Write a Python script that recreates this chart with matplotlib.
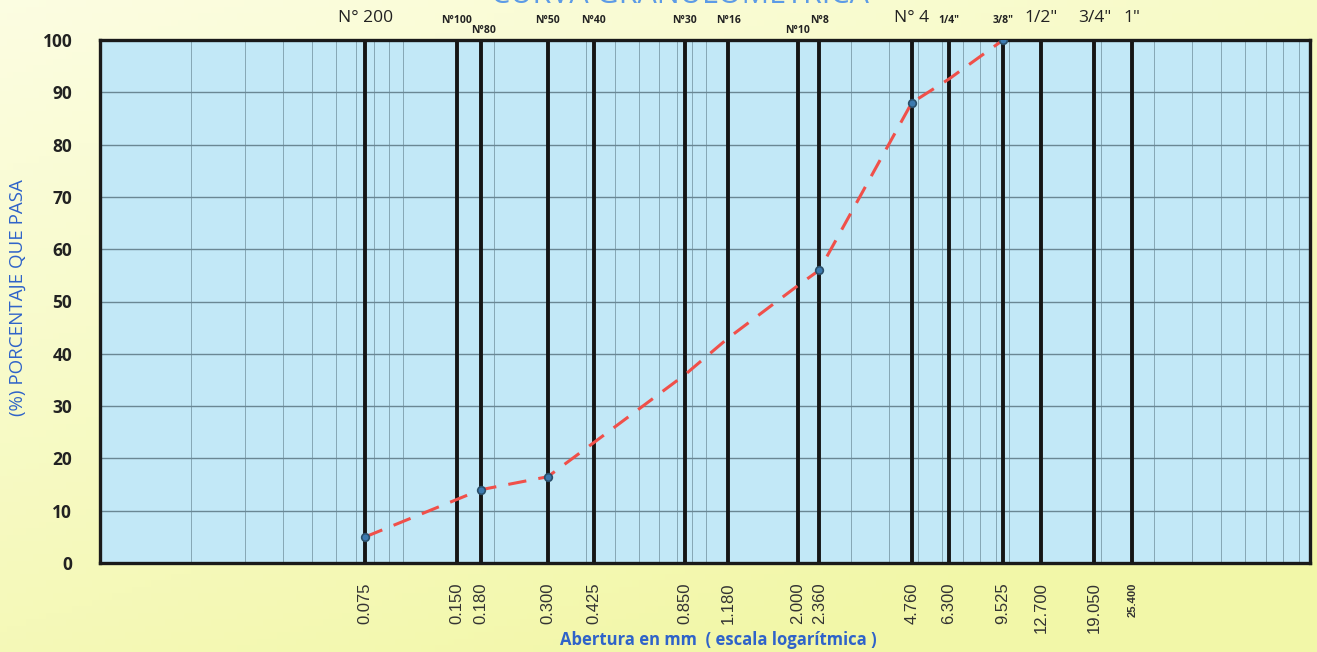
import numpy as np
import matplotlib
matplotlib.use("Agg")
from matplotlib import pyplot as plt
from matplotlib.ticker import FixedLocator, NullFormatter, LogLocator

## Data
sieve_mm = [0.075, 0.150, 0.180, 0.300, 0.425, 0.850, 1.180, 2.000, 2.360,
            4.760, 6.300, 9.525, 12.700, 19.050, 25.400]
sieve_lbl = ["0.075", "0.150", "0.180", "0.300", "0.425", "0.850", "1.180", "2.000",
             "2.360", "4.760", "6.300", "9.525", "12.700", "19.050", "25.400"]
sieve_top = ["N° 200", "N°100", "N°80", "N°50", "N°40", "N°30", "N°16", "N°10",
             "N°8", "N° 4", "1/4\"", "3/8\"", "1/2\"", "3/4\"", "1\""]

# curve readings (markers only on measured points)
curve_mm = [0.075, 0.180, 0.300, 0.425, 0.850, 1.180, 2.000, 2.360, 4.760, 6.300, 9.525]
curve_pct = [5.0, 14.0, 16.5, 23.0, 36.0, 43.0, 53.0, 56.0, 88.0, 92.5, 100.0]
marked = [0, 1, 2, 7, 8, 10]

fig = plt.figure(figsize=(13.17, 6.52), dpi=100)

## Background gradient
bg = fig.add_axes([0, 0, 1, 1], zorder=-10)
gx, gy = np.meshgrid(np.linspace(0, 1, 200), np.linspace(0, 1, 100))
t = np.clip(0.55 * gy + 0.35 * gx + 0.25, 0, 1)
top = np.array([1.0, 1.0, 0.96])
bot = np.array([0.95, 0.97, 0.66])
img = top[None, None, :] * (1 - t[..., None]) + bot[None, None, :] * t[..., None]
bg.imshow(img, aspect="auto", extent=[0, 1, 0, 1], origin="upper")
bg.axis("off")

ax = fig.add_axes([100 / 1317, 89 / 652, 1210 / 1317, 523 / 652])
ax.set_facecolor("#c2e8f7")
ax.set_xscale("log")
ax.set_xlim(0.01, 98)
ax.set_ylim(0, 100)

## Grid
ax.xaxis.set_minor_locator(LogLocator(base=10, subs=np.arange(1, 10)))
ax.xaxis.set_minor_formatter(NullFormatter())
ax.grid(which="minor", axis="x", color="#86a6b4", lw=0.7)
ax.set_yticks(np.arange(0, 101, 10))
ax.grid(which="major", axis="y", color="#6a8794", lw=1.0)
ax.tick_params(axis="both", which="both", length=0)

## Sieve lines
for s in sieve_mm:
    ax.axvline(s, color="#151515", lw=2.8, zorder=2)

ax.xaxis.set_major_locator(FixedLocator(sieve_mm))
ax.set_xticklabels(sieve_lbl, rotation=90, fontsize=12, color="#333333",
                   family="Liberation Sans")
ax.get_xticklabels()[-1].set_fontsize(8)
ax.get_xticklabels()[-1].set_fontweight("bold")
ax.tick_params(axis="x", pad=14)
ax.set_yticklabels([str(v) for v in range(0, 101, 10)], fontsize=12.5,
                   fontweight="bold", color="#222222", family="Open Sans")
ax.tick_params(axis="y", pad=20)

for sp in ax.spines.values():
    sp.set_linewidth(2.4)
    sp.set_color("#1a1a1a")

## Top labels
big = {"N° 200", "N° 4", "1/2\"", "3/4\"", "1\""}
lowered = {"N°80", "N°10"}
for s, lab in zip(sieve_mm, sieve_top):
    if lab in big:
        ax.text(s, 1.042, lab, transform=ax.get_xaxis_transform(), ha="center",
                va="center", fontsize=12.5, color="#222222", family="Open Sans")
    else:
        yy = 1.019 if lab in lowered else 1.038
        ax.text(s + (0.004 if lab == "N°80" else 0), yy, lab,
                transform=ax.get_xaxis_transform(), ha="center", va="center",
                fontsize=7.5, fontweight="bold", color="#222222", family="Open Sans")

## Curve
ax.plot(curve_mm, curve_pct, color="#f0504a", lw=2.2, dashes=(6, 4), zorder=4)
ax.plot([curve_mm[i] for i in marked], [curve_pct[i] for i in marked], "o",
        ms=5.5, mfc="#3c7ab0", mec="#2a4f6a", mew=1.2, zorder=5)

## Titles (title is cut by the top edge, as in the source image)
fig.text(680 / 1317, 1.007, "CURVA GRANULOMÉTRICA", ha="center", va="center",
         fontsize=22, color="#5d9be6", family="Open Sans")
fig.text(18 / 1317, 1 - 298 / 652, "(%) PORCENTAJE QUE PASA", rotation=90,
         ha="center", va="center", fontsize=13.5, color="#2f63c9", family="Open Sans")
fig.text(718 / 1317, 12 / 652, "Abertura en mm  ( escala logarítmica )", ha="center",
         va="center", fontsize=12, fontweight="bold", color="#2f63c9", family="Open Sans")

fig.savefig("out.png", dpi=100)
